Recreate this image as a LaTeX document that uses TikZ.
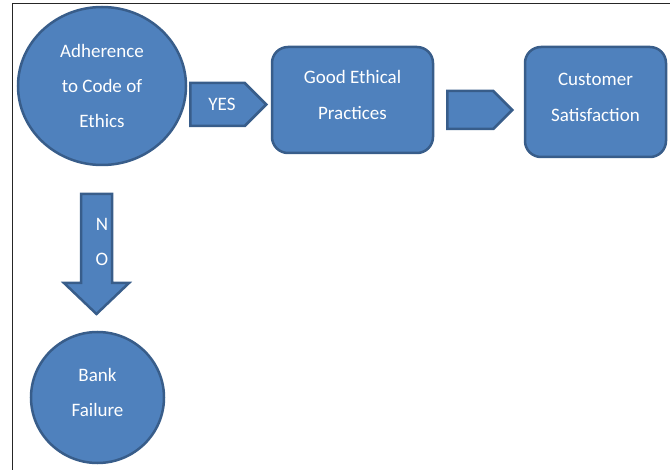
\documentclass[tikz,border=0pt]{standalone}
\usepackage{fontspec}
\setmainfont{Carlito}
\usetikzlibrary{shapes.geometric,shapes.arrows}
\definecolor{boxblue}{HTML}{4F81BD}
\definecolor{edgeblue}{HTML}{385D8A}

\begin{document}
\begin{tikzpicture}[x=1pt,y=-1pt,
    blob/.style={ellipse, draw=edgeblue, fill=boxblue, line width=2.5pt,
        text=white, align=center, inner sep=0pt, font=\fontsize{19}{35}\selectfont},
    block/.style={rectangle, rounded corners=16pt, draw=edgeblue, fill=boxblue,
        line width=2.5pt, text=white, align=center, inner sep=0pt,
        font=\fontsize{19}{36}\selectfont},
    flow/.style={single arrow, draw=edgeblue, fill=boxblue, line width=2.5pt,
        single arrow tip angle=90, inner sep=0pt, anchor=tail},
    lbl/.style={text=white, align=center, font=\fontsize{19}{35}\selectfont}]

    \useasboundingbox (0,0) rectangle (670,470);

    % Draw frame
    \draw[line width=0.8pt, black!85] (670,3) -- (12.5,3) -- (12.5,470);

    % Draw circles and boxes
    \node[blob, minimum width=168pt, minimum height=158pt] (code) at (102,86)
        {Adherence\\to Code of\\Ethics};
    \node[block, minimum width=161pt, minimum height=106pt, text depth=10pt]
        (good) at (352.5,100) {Good Ethical\\Practices};
    \node[block, minimum width=141pt, minimum height=110pt, text depth=10pt]
        (cust) at (595.5,102) {Customer\\Satisfaction};
    \node[blob, minimum width=133pt, minimum height=131pt, text depth=10pt]
        (bank) at (97.5,397.5) {Bank\\Failure};

    % Draw block arrows
    \node[flow, minimum height=76pt, minimum width=43pt,
        single arrow head extend=0pt] (yes) at (189,104.5) {};
    \node[lbl] at (222,104) {YES};

    \node[flow, minimum height=65pt, minimum width=38pt,
        single arrow head extend=0pt] (next) at (446,110) {};

    \coordinate (notail) at (96.5,194);
    \draw[draw=edgeblue, fill=boxblue, line width=2.5pt, line join=miter]
        (notail) ++(-15.5,0) -- ++(31,0) -- ++(0,89) -- ++(17,0)
        -- ++(-32.5,31) -- ++(-32.5,-31) -- ++(17,0) -- cycle;
    \node[lbl] (no) at (102,241.5) {N\\O};

\end{tikzpicture}
\end{document}
